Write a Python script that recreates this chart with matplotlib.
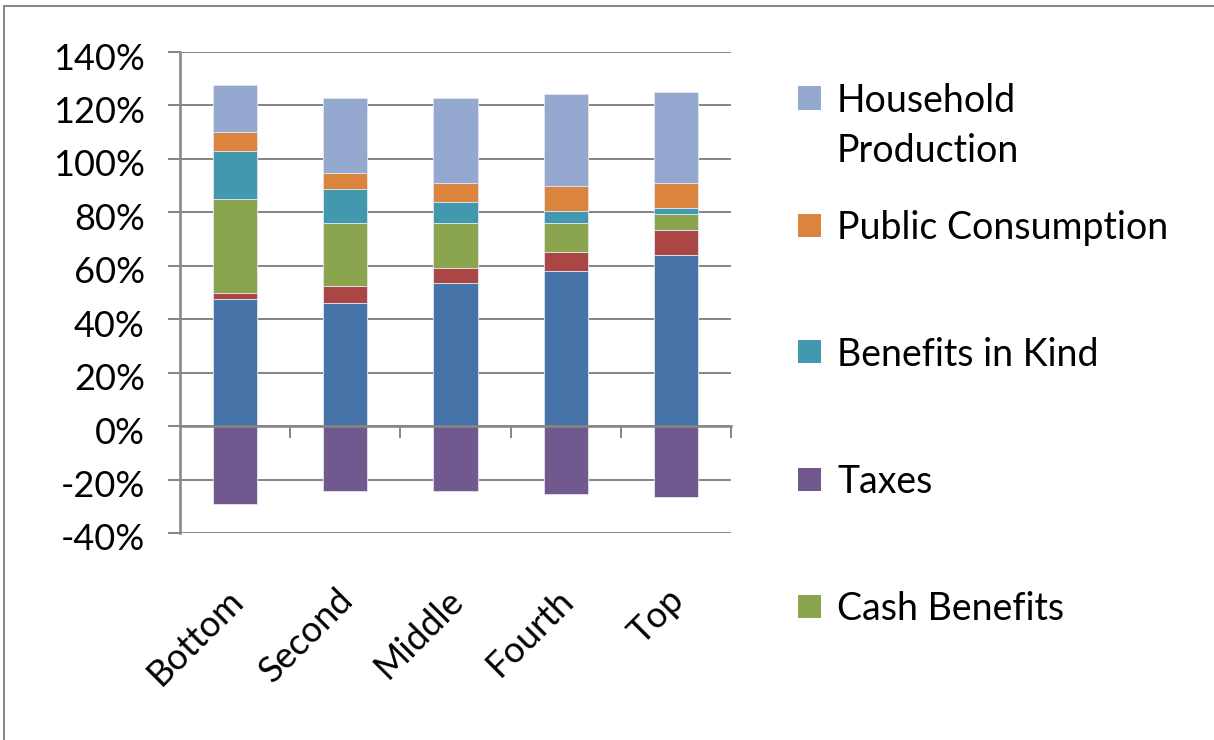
import matplotlib
matplotlib.use('Agg')
import matplotlib.pyplot as plt
from matplotlib.patches import Rectangle
from matplotlib.lines import Line2D
import matplotlib.transforms as mtrans

# ---------------- data ----------------
categories = ['Bottom', 'Second', 'Middle', 'Fourth', 'Top']
market_income = [47.5, 46.25, 53.4, 58.1, 64.0]
other_income = [2.25, 6.0, 5.9, 7.0, 9.4]
cash_benefits = [35.4, 23.6, 16.6, 10.75, 5.9]
taxes = [-29.0, -24.25, -24.25, -25.5, -26.6]
benefits_in_kind = [17.75, 12.75, 8.0, 4.5, 2.4]
public_consumption = [7.0, 6.0, 7.0, 9.5, 9.25]
household_production = [17.75, 28.25, 32.0, 34.25, 34.25]
y_ticks = [-40, -20, 0, 20, 40, 60, 80, 100, 120, 140]
legend_labels = ['Household\nProduction', 'Public Consumption',
                 'Benefits in Kind', 'Taxes', 'Cash Benefits']

# ---------------- style ----------------
C_BLUE = '#4573A7'
C_RED = '#AA4744'
C_GREEN = '#8BA54E'
C_PURPLE = '#71588F'
C_TEAL = '#4198AF'
C_ORANGE = '#DB843D'
C_LBLUE = '#95A9D0'
GRAY = '#878787'
FONT = 'Lato'
FS = 26
FS_LEG = 27

plt.rcParams['font.family'] = [FONT, 'DejaVu Sans']

W, H = 1214, 740
fig = plt.figure(figsize=(W / 100, H / 100), dpi=100)
px = 0.72  # points per pixel

ax = fig.add_axes([180 / W, 1 - 533 / H, (731 - 180) / W, (533 - 52) / H])
x = list(range(len(categories)))
bw = 0.4
edge = dict(edgecolor='#dfe6f0', linewidth=0.6)

positive_series = [
    (market_income, C_BLUE),
    (other_income, C_RED),
    (cash_benefits, C_GREEN),
    (benefits_in_kind, C_TEAL),
    (public_consumption, C_ORANGE),
    (household_production, C_LBLUE),
]
bottom = [0.0] * len(categories)
for vals, col in positive_series:
    ax.bar(x, vals, bw, bottom=bottom, color=col, zorder=2, **edge)
    bottom = [b + v for b, v in zip(bottom, vals)]
ax.bar(x, taxes, bw, color=C_PURPLE, zorder=2, **edge)

ax.set_xlim(-0.5, len(categories) - 0.5)
ax.set_ylim(-40, 140)
ax.set_yticks(y_ticks)
ax.set_yticklabels([f'{t}%' for t in y_ticks])
ax.set_axisbelow(True)
ax.yaxis.grid(True, color=GRAY, linewidth=2 * px)

for s in ['top', 'right', 'bottom']:
    ax.spines[s].set_visible(False)
ax.spines['left'].set_color(GRAY)
ax.spines['left'].set_linewidth(2.6 * px)

ax.tick_params(axis='y', direction='out', length=12 * px, width=2 * px,
               color=GRAY, labelsize=FS, pad=23 * px)
yoff = mtrans.ScaledTranslation(0, -4 / 100, fig.dpi_scale_trans)
for lab in ax.get_yticklabels():
    lab.set_transform(lab.get_transform() + yoff)

ax.set_xticks(x)
ax.set_xticklabels(categories, rotation=45, ha='right', va='top',
                   rotation_mode='anchor', fontsize=FS)
ax.tick_params(axis='x', length=0, pad=50 * px)
off = mtrans.ScaledTranslation(-9 / 100, 0, fig.dpi_scale_trans)
for lab in ax.get_xticklabels():
    lab.set_transform(lab.get_transform() + off)

# zero line with category separators
secax = ax.secondary_xaxis(40 / 180)
secax.set_xticks([i + 0.5 for i in x])
secax.set_xticklabels([])
secax.tick_params(axis='x', direction='out', length=12 * px, width=2 * px,
                  color=GRAY)
secax.spines['bottom'].set_color(GRAY)
secax.spines['bottom'].set_linewidth(2.6 * px)
secax.set_zorder(5)

# outer chart border
fig.add_artist(Line2D([4 / W, 4 / W], [0, 1 - 6 / H], color=GRAY,
                      linewidth=2 * px))
fig.add_artist(Line2D([4 / W, 1], [1 - 6 / H, 1 - 6 / H], color=GRAY,
                      linewidth=2 * px))

# legend (manual, Excel style)
legend_colors = [C_LBLUE, C_ORANGE, C_TEAL, C_PURPLE, C_GREEN]
for i, (lab, col) in enumerate(zip(legend_labels, legend_colors)):
    yc = 98 + 127 * i
    fig.add_artist(Rectangle((798 / W, 1 - (yc + 11.5) / H), 23 / W, 23 / H,
                             transform=fig.transFigure, facecolor=col,
                             edgecolor='none'))
    for j, line in enumerate(lab.split('\n')):
        fig.text(837 / W, 1 - (yc + 14 + 50 * j) / H, line, fontsize=FS_LEG,
                 va='baseline', ha='left')

fig.savefig('out.png', dpi=100)
